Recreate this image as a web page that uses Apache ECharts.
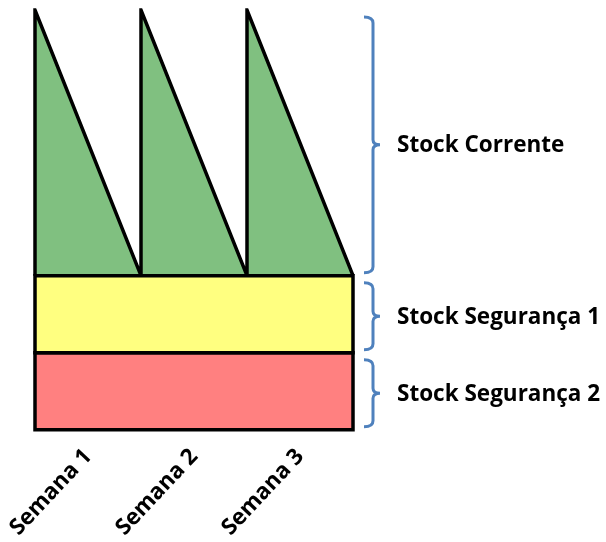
<!DOCTYPE html>
<html>
<head>
<meta charset="utf-8">
<script src="https://cdn.jsdelivr.net/npm/echarts@6/dist/echarts.min.js"></script>
<style>
  html, body { margin: 0; padding: 0; background: #fff; }
  #chart { width: 606px; height: 542px; }
</style>
</head>
<body>
<div id="chart"></div>
<script>
// Weeks shown along the bottom
const weekLabels = ['Semana 1', 'Semana 2', 'Semana 3'];
const weeksTotal = 3;

// Stock levels (units)
const safety2Level = 20;      // top of "Stock Segurança 2"
const safety1Level = 40;      // top of "Stock Segurança 1"
const cycleTopLevel = 109;    // replenished stock at the start of each week

// Sawtooth of the current stock: [week, level]
const cyclePoints = [
  [0, 40], [0, 109], [1, 40], [1, 109], [2, 40], [2, 109], [3, 40]
];

// Safety stock bands: [weekStart, weekEnd, lowLevel, highLevel]
const safetyBands = [
  [0, 3, 0, 20],
  [0, 3, 20, 40]
];
const bandColors = ['#ff8080', '#ffff80'];

// Braces on the right: [week, lowLevel, highLevel, label]
const braceRanges = [
  [3, 40, 109, 'Stock Corrente'],
  [3, 20, 40, 'Stock Segurança 1'],
  [3, 0, 20, 'Stock Segurança 2']
];

const labelFont = 'Open Sans';

const chart = echarts.init(document.getElementById('chart'));

function renderBand(params, api) {
  const p0 = api.coord([api.value(0), api.value(3)]);
  const p1 = api.coord([api.value(1), api.value(2)]);
  return {
    type: 'rect',
    shape: { x: p0[0], y: p0[1], width: p1[0] - p0[0], height: p1[1] - p0[1] },
    style: { fill: bandColors[params.dataIndex], stroke: '#000', lineWidth: 3.5 }
  };
}

function renderBrace(params, api) {
  const xr = api.coord([api.value(0), 0])[0];
  const yTop = api.coord([0, api.value(2)])[1] + 7;
  const yBot = api.coord([0, api.value(1)])[1] - 3;
  const bx = xr + 20;
  const mid = (yTop + yBot) / 2;
  const d = [
    'M', bx - 9, yTop,
    'Q', bx, yTop, bx, yTop + 6,
    'L', bx, mid - 5,
    'Q', bx, mid, bx + 7, mid,
    'Q', bx, mid, bx, mid + 5,
    'L', bx, yBot - 6,
    'Q', bx, yBot, bx - 9, yBot
  ].join(' ');
  return {
    type: 'group',
    children: [
      {
        type: 'path',
        shape: { pathData: d },
        style: { fill: null, stroke: '#4f81bd', lineWidth: 3 }
      },
      {
        type: 'text',
        style: {
          text: braceRanges[params.dataIndex][3],
          x: bx + 24,
          y: mid + 1,
          verticalAlign: 'middle',
          align: 'left',
          fill: '#000',
          font: 'bold 22.5px "' + labelFont + '"'
        }
      }
    ]
  };
}

chart.setOption({
  animation: false,
  grid: { left: 35, right: 253, top: 10, bottom: 110 },
  xAxis: [
    { type: 'value', min: 0, max: weeksTotal, show: false },
    {
      type: 'category',
      data: weekLabels,
      position: 'bottom',
      boundaryGap: true,
      axisLine: { show: false },
      axisTick: { show: false },
      splitLine: { show: false },
      axisLabel: {
        rotate: 47,
        margin: 23,
        color: '#000',
        fontFamily: labelFont,
        fontWeight: 'bold',
        fontSize: 22.5
      }
    }
  ],
  yAxis: { type: 'value', min: 0, max: cycleTopLevel, show: false },
  series: [
    {
      type: 'line',
      xAxisIndex: 0,
      data: cyclePoints,
      showSymbol: false,
      lineStyle: { color: '#000', width: 3.5, join: 'miter' },
      areaStyle: { color: '#80c080', opacity: 1 },
      z: 2
    },
    {
      type: 'custom',
      xAxisIndex: 0,
      data: safetyBands,
      renderItem: renderBand,
      z: 3
    },
    {
      type: 'custom',
      xAxisIndex: 0,
      data: braceRanges.map(r => r.slice(0, 3)),
      renderItem: renderBrace,
      clip: false,
      z: 4
    }
  ]
});
</script>
</body>
</html>
